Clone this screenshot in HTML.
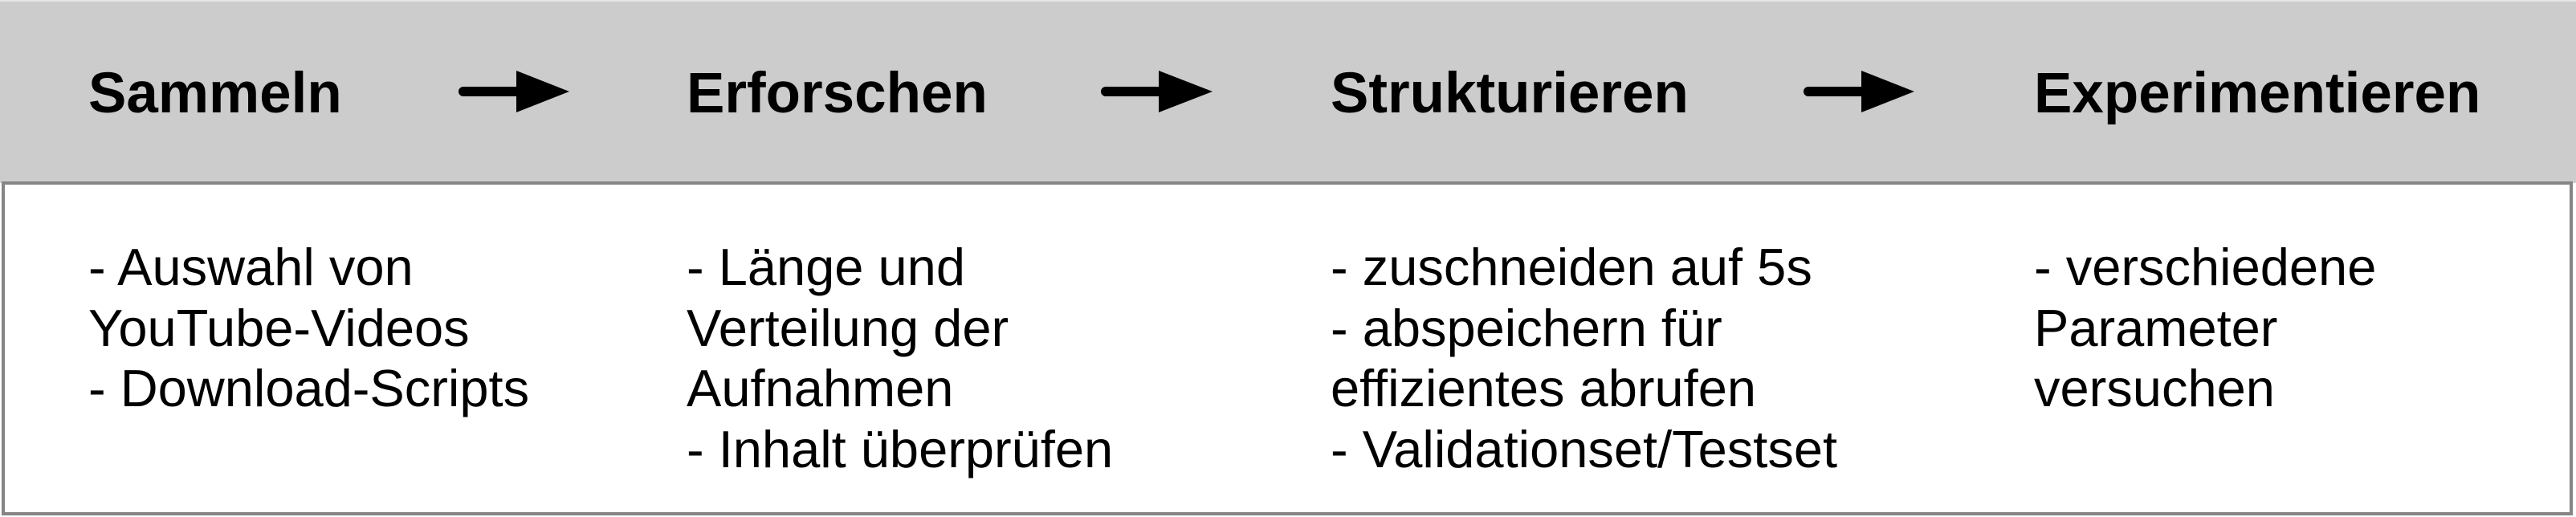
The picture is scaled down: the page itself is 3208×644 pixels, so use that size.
<!DOCTYPE html>
<html><head><meta charset="utf-8"><style>
html,body{margin:0;padding:0;background:#fff;}
#c{position:relative;width:3208px;height:644px;overflow:hidden;background:#fff;font-family:"Liberation Sans",Arial,sans-serif;}
#top{position:absolute;left:0;top:0;width:3208px;height:228px;background:#cccccc;border-top:2px solid #e6e6e6;box-sizing:border-box;}
#box{position:absolute;left:2px;top:226px;width:3202px;height:416px;border:4px solid #858585;box-sizing:border-box;background:#fff;}
.t{position:absolute;top:77px;font-size:71px;font-weight:bold;line-height:80px;color:#000;white-space:nowrap;}
.b{position:absolute;top:295px;font-size:65px;line-height:75.5px;color:#000;white-space:nowrap;}
svg{position:absolute;left:0;top:0;}
</style></head><body><div id="c">
<div id="top"></div>
<div id="box"></div>
<div class="t" style="left:110px">Sammeln</div>
<div class="t" style="left:855px">Erforschen</div>
<div class="t" style="left:1657px">Strukturieren</div>
<div class="t" style="left:2533px">Experimentieren</div>
<svg width="3208" height="644">
<g fill="#000" stroke="#000">
<line x1="577" y1="114" x2="650" y2="114" stroke-width="12" stroke-linecap="round"/>
<polygon points="643,88 709,114 643,140" stroke="none"/>
<line x1="1377" y1="114" x2="1450" y2="114" stroke-width="12" stroke-linecap="round"/>
<polygon points="1443,88 1510,114 1443,140" stroke="none"/>
<line x1="2252" y1="114" x2="2325" y2="114" stroke-width="12" stroke-linecap="round"/>
<polygon points="2318,88 2384,114 2318,140" stroke="none"/>
</g></svg>
<div class="b" style="left:110px">- Auswahl von<br>YouTube-Videos<br>- Download-Scripts</div>
<div class="b" style="left:855px">- Länge und<br>Verteilung der<br>Aufnahmen<br>- Inhalt überprüfen</div>
<div class="b" style="left:1657px">- zuschneiden auf 5s<br>- abspeichern für<br>effizientes abrufen<br>- Validationset/Testset</div>
<div class="b" style="left:2533px">- verschiedene<br>Parameter<br>versuchen</div>
</div></body></html>
